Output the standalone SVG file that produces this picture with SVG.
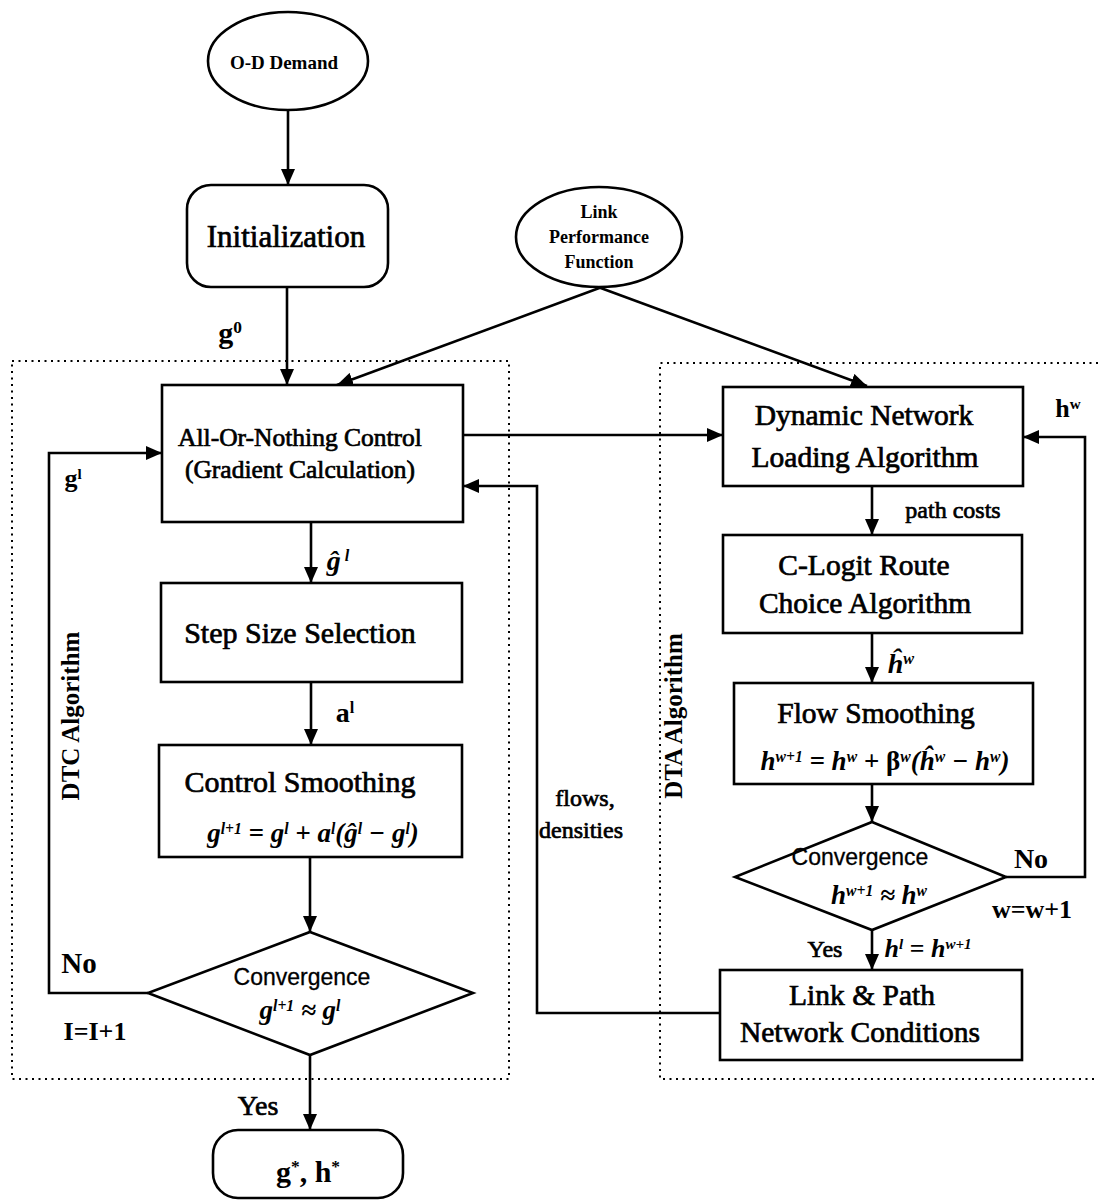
<svg xmlns="http://www.w3.org/2000/svg" width="1098" height="1203" viewBox="0 0 1098 1203">
  <style>
    .box { fill: #fff; stroke: #000; stroke-width: 2.6; }
    .line { fill: none; stroke: #000; stroke-width: 2.6; }
    .arrow { fill: none; stroke: #000; stroke-width: 2.6; marker-end: url(#ah); }
    .dots { fill: none; stroke: #000; stroke-width: 2; stroke-dasharray: 2 4.5; }
    .t { font-family: "Liberation Serif", "Times New Roman", serif; fill: #000; stroke: #000; stroke-width: 0.7; text-anchor: middle; }
    .b { font-family: "Liberation Serif", "Times New Roman", serif; font-weight: bold; fill: #000; text-anchor: middle; }
    .m { font-family: "Liberation Serif", "Times New Roman", serif; font-style: italic; font-weight: bold; fill: #000; text-anchor: middle; }
    .s { font-family: "Liberation Sans", Arial, sans-serif; fill: #000; stroke: #000; stroke-width: 0.3; text-anchor: middle; }
    .sup { font-size: 58%; }
  </style>
  <defs>
    <marker id="ah" markerUnits="userSpaceOnUse" markerWidth="16" markerHeight="14" refX="16" refY="7" orient="auto">
      <path d="M0,0 L16,7 L0,14 z" fill="#000"/>
    </marker>
  </defs>

  <!-- algorithm regions -->
  <g id="regions">
    <rect class="dots" x="12" y="361" width="497" height="718"/>
    <polyline class="dots" points="1098,363 660,363 660,1079 1098,1079"/>
    <text class="b" font-size="25" transform="translate(79,716) rotate(-90)">DTC Algorithm</text>
    <text class="b" font-size="25" transform="translate(682,716) rotate(-90)">DTA Algorithm</text>
  </g>

  <!-- connectors -->
  <g id="connectors">
    <line class="arrow" x1="288" y1="110" x2="288" y2="185"/>
    <line class="arrow" x1="287" y1="287" x2="287" y2="385"/>
    <line class="arrow" x1="602" y1="287" x2="337" y2="385"/>
    <line class="arrow" x1="598" y1="287" x2="867" y2="386"/>
    <line class="arrow" x1="463" y1="435" x2="723" y2="435"/>
    <line class="arrow" x1="311" y1="522" x2="311" y2="583"/>
    <line class="arrow" x1="311" y1="682" x2="311" y2="745"/>
    <line class="arrow" x1="310" y1="857" x2="310" y2="932"/>
    <polyline class="arrow" points="148,993 49,993 49,453 162,453"/>
    <line class="arrow" x1="310" y1="1055" x2="310" y2="1130"/>
    <line class="arrow" x1="872" y1="486" x2="872" y2="535"/>
    <line class="arrow" x1="872" y1="633" x2="872" y2="683"/>
    <line class="arrow" x1="872" y1="784" x2="872" y2="822"/>
    <polyline class="arrow" points="1006,877 1085,877 1085,437 1023,437"/>
    <line class="arrow" x1="872" y1="930" x2="872" y2="970"/>
    <polyline class="arrow" points="720,1013 537,1013 537,486 463,486"/>

    <!-- connector labels -->
    <text class="b" font-size="30" x="230" y="343">g<tspan class="sup" baseline-shift="super">0</tspan></text>
    <text class="b" font-size="26" x="73" y="487">g<tspan class="sup" baseline-shift="super">l</tspan></text>
    <text class="m" font-size="28" x="338" y="570">ĝ<tspan class="sup" baseline-shift="super"> l</tspan></text>
    <text class="b" font-size="28" x="345" y="722">a<tspan class="sup" baseline-shift="super">l</tspan></text>
    <text class="b" font-size="29" x="79" y="973">No</text>
    <text class="b" font-size="26" x="95" y="1040">I=I+1</text>
    <text class="t" font-size="28" x="258" y="1115">Yes</text>
    <text class="b" font-size="26" x="1068" y="417">h<tspan class="sup" baseline-shift="super">w</tspan></text>
    <text class="t" font-size="24" x="953" y="518">path costs</text>
    <text class="m" font-size="28" x="901" y="673">ĥ<tspan class="sup" baseline-shift="super">w</tspan></text>
    <text class="b" font-size="28" x="1031" y="868">No</text>
    <text class="b" font-size="26" x="1032" y="918">w=w+1</text>
    <text class="t" font-size="24" x="825" y="957">Yes</text>
    <text class="m" font-size="26" x="928" y="957">h<tspan class="sup" baseline-shift="super">l</tspan> = h<tspan class="sup" baseline-shift="super">w+1</tspan></text>
    <text class="t" font-size="24" x="585" y="806">flows,</text>
    <text class="t" font-size="24" x="581" y="838">densities</text>
  </g>

  <!-- nodes -->
  <g id="od-demand">
    <ellipse class="box" cx="288" cy="61" rx="80" ry="49"/>
    <text class="b" font-size="19" x="284" y="69">O-D Demand</text>
  </g>

  <g id="initialization">
    <rect class="box" x="187" y="185" width="201" height="102" rx="24"/>
    <text class="t" font-size="31" x="286" y="247">Initialization</text>
  </g>

  <g id="link-performance">
    <ellipse class="box" cx="599" cy="237" rx="83" ry="50"/>
    <text class="b" font-size="18" x="599" y="218">Link</text>
    <text class="b" font-size="18" x="599" y="243">Performance</text>
    <text class="b" font-size="18" x="599" y="268">Function</text>
  </g>

  <g id="all-or-nothing">
    <rect class="box" x="162" y="385" width="301" height="137"/>
    <text class="t" font-size="25.5" x="300" y="446">All-Or-Nothing Control</text>
    <text class="t" font-size="25.5" x="300" y="478">(Gradient Calculation)</text>
  </g>

  <g id="step-size">
    <rect class="box" x="161" y="583" width="301" height="99"/>
    <text class="t" font-size="30" x="300" y="643">Step Size Selection</text>
  </g>

  <g id="control-smoothing">
    <rect class="box" x="159" y="745" width="303" height="112"/>
    <text class="t" font-size="30" x="300" y="792">Control Smoothing</text>
    <text class="m" font-size="27" x="313" y="842">g<tspan class="sup" baseline-shift="super">l+1</tspan> = g<tspan class="sup" baseline-shift="super">l</tspan> + a<tspan class="sup" baseline-shift="super">l</tspan>(ĝ<tspan class="sup" baseline-shift="super">l</tspan> − g<tspan class="sup" baseline-shift="super">l</tspan>)</text>
  </g>

  <g id="dtc-convergence">
    <polygon class="box" points="310,932 473,993 310,1055 148,993"/>
    <text class="s" font-size="23" x="302" y="985">Convergence</text>
    <text class="m" font-size="27" x="300" y="1019">g<tspan class="sup" baseline-shift="super">l+1</tspan> ≈ g<tspan class="sup" baseline-shift="super">l</tspan></text>
  </g>

  <g id="result">
    <rect class="box" x="213" y="1130" width="190" height="68" rx="25"/>
    <text class="b" font-size="30" x="308" y="1182">g<tspan class="sup" baseline-shift="super">*</tspan>, h<tspan class="sup" baseline-shift="super">*</tspan></text>
  </g>

  <g id="network-loading">
    <rect class="box" x="723" y="387" width="300" height="99"/>
    <text class="t" font-size="29.5" x="864" y="425">Dynamic Network</text>
    <text class="t" font-size="29.5" x="865" y="467">Loading Algorithm</text>
  </g>

  <g id="route-choice">
    <rect class="box" x="723" y="535" width="299" height="98"/>
    <text class="t" font-size="29.5" x="864" y="575">C-Logit Route</text>
    <text class="t" font-size="29.5" x="865" y="613">Choice Algorithm</text>
  </g>

  <g id="flow-smoothing">
    <rect class="box" x="734" y="683" width="299" height="101"/>
    <text class="t" font-size="29.5" x="876" y="723">Flow Smoothing</text>
    <text class="m" font-size="27" x="885" y="770">h<tspan class="sup" baseline-shift="super">w+1</tspan> = h<tspan class="sup" baseline-shift="super">w</tspan> + <tspan font-style="normal">β</tspan><tspan class="sup" baseline-shift="super">w</tspan>(ĥ<tspan class="sup" baseline-shift="super">w</tspan> − h<tspan class="sup" baseline-shift="super">w</tspan>)</text>
  </g>

  <g id="dta-convergence">
    <polygon class="box" points="872,822 1006,877 872,930 735,877"/>
    <text class="s" font-size="23" x="860" y="865">Convergence</text>
    <text class="m" font-size="27" x="879" y="904">h<tspan class="sup" baseline-shift="super">w+1</tspan> ≈ h<tspan class="sup" baseline-shift="super">w</tspan></text>
  </g>

  <g id="network-conditions">
    <rect class="box" x="720" y="970" width="302" height="90"/>
    <text class="t" font-size="29.5" x="862" y="1005">Link &amp; Path</text>
    <text class="t" font-size="29.5" x="860" y="1042">Network Conditions</text>
  </g>
</svg>
